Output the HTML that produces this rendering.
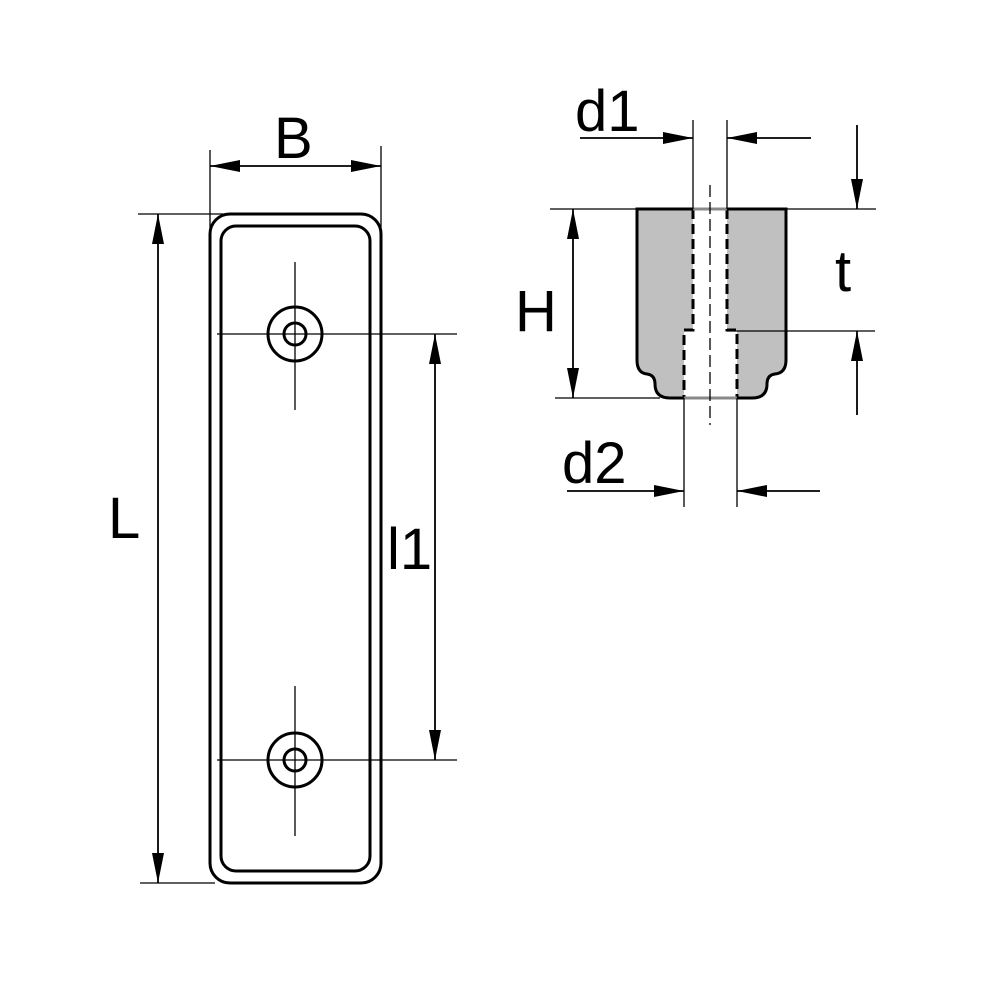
<!DOCTYPE html><html><head><style>body{margin:0;background:#fff}svg{display:block}text{font-family:"Liberation Sans",sans-serif;font-size:58px;fill:#000}</style></head><body>
<svg width="1000" height="1000" viewBox="0 0 1000 1000">
<defs><marker id="a" viewBox="0 0 30 12" refX="30" refY="6" markerWidth="30" markerHeight="12" markerUnits="userSpaceOnUse" orient="auto-start-reverse"><path d="M0,0L30,6L0,12z"/></marker></defs>
<g fill="none" stroke="#000">
<rect x="210" y="214" width="171" height="669" rx="20" stroke-width="3"/>
<rect x="221" y="226" width="149" height="645" rx="15" stroke-width="3"/>
<circle cx="295" cy="334" r="27" stroke-width="3"/><circle cx="295" cy="334" r="11" stroke-width="3"/>
<circle cx="295" cy="760" r="27" stroke-width="3"/><circle cx="295" cy="760" r="11" stroke-width="3"/>
<g stroke-width="1.3">
<path d="M295 262V410M217 334H457M295 686V836M217 760H457"/>
<path d="M210 150V228M381 146V228M138 214H240M140 883H215"/>
</g>
<g stroke-width="1.8">
<path d="M210 166H381" marker-start="url(#a)" marker-end="url(#a)"/>
<path d="M158 214V883" marker-start="url(#a)" marker-end="url(#a)"/>
<path d="M435 334V760" marker-start="url(#a)" marker-end="url(#a)"/>
</g>
</g>
<path d="M637 209H786V360Q786 373 775 374Q767 375 767 384Q767 398 752 398H670Q655 398 655 384Q655 375 647 374Q637 373 637 360Z" fill="#c0c0c0" stroke="#000" stroke-width="3"/>
<path d="M693 209H727V330H737V398H684V330H693Z" fill="#fff"/>
<g fill="none" stroke="#000" stroke-width="3">
<path d="M693 209V330H684V398M727 209V330H737V398" stroke-dasharray="10 5"/>
</g>
<path d="M693 209H727M684 398H737" stroke="#888" stroke-width="3"/>
<g fill="none" stroke="#000" stroke-width="1.3">
<path d="M710 185V425" stroke-dasharray="12 5"/>
<path d="M693 120V209M727 120V209M684 398V507M737 398V507"/>
<path d="M550 209H637M555 398H660M784 209H876M727 331H875"/>
</g>
<g fill="none" stroke="#000" stroke-width="1.8">
<path d="M580 138H693" marker-end="url(#a)"/><path d="M811 138H727" marker-end="url(#a)"/>
<path d="M567 491H684" marker-end="url(#a)"/><path d="M820 491H737" marker-end="url(#a)"/>
<path d="M573 209V398" marker-start="url(#a)" marker-end="url(#a)"/>
<path d="M857 125V209" marker-end="url(#a)"/><path d="M857 415V331" marker-end="url(#a)"/>
</g>
<text x="274" y="158">B</text>
<text x="108" y="538">L</text>
<text x="387" y="569">l1</text>
<text x="575" y="131">d1</text>
<text x="562" y="483">d2</text>
<text x="515" y="331">H</text>
<text x="835" y="291">t</text>
</svg></body></html>
